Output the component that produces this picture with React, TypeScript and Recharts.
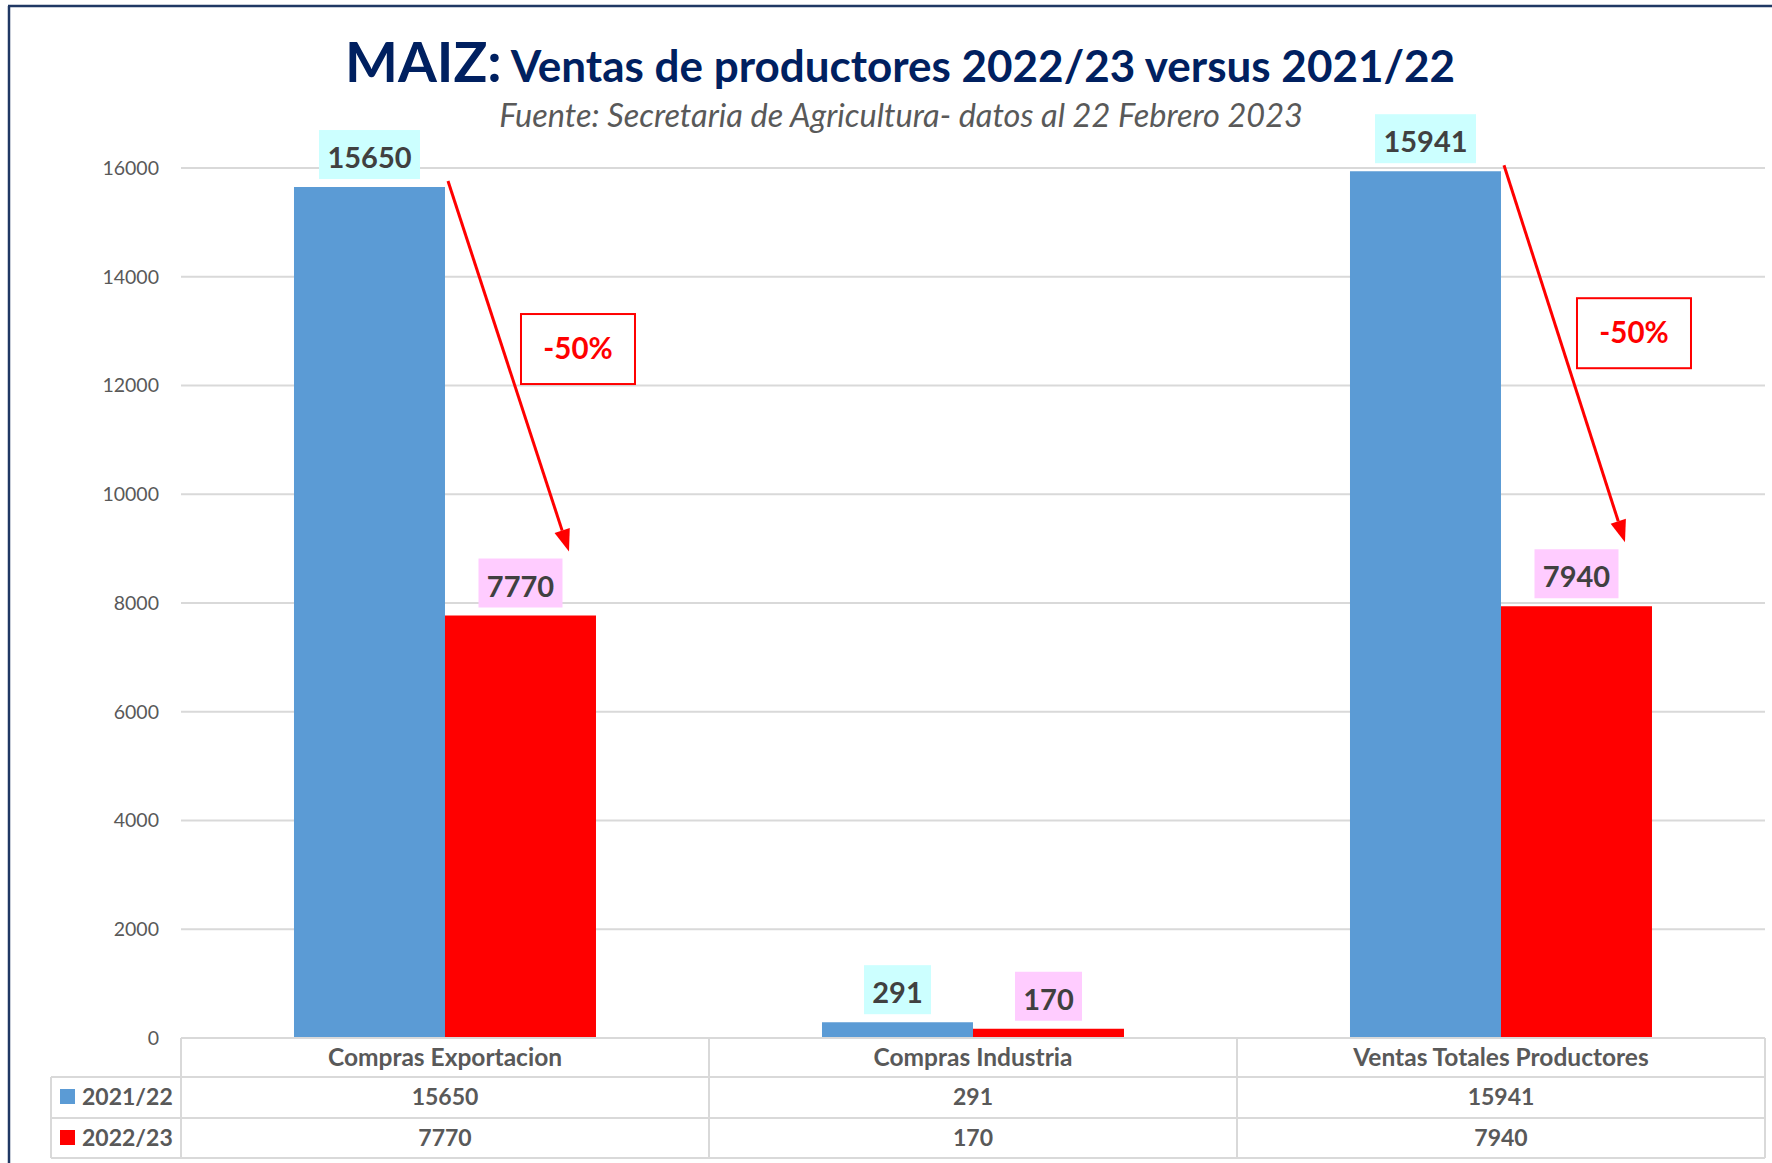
import React from 'react';
import { BarChart, Bar, XAxis, YAxis, CartesianGrid, LabelList } from 'recharts';

const categories = ['Compras Exportacion', 'Compras Industria', 'Ventas Totales Productores'];
const seriesNames = ['2021/22', '2022/23'];
const values2122 = [15650, 291, 15941];
const values2223 = [7770, 170, 7940];
const changeLabels = ['-50%', '', '-50%'];
const yTicks = [0, 2000, 4000, 6000, 8000, 10000, 12000, 14000, 16000];

const COLORS = { a: '#5B9BD5', b: '#FF0000' };
const LABEL_BG = { a: '#CCFFFF', b: '#FFCCFF' };
const FONT = "Lato, 'Noto Sans', sans-serif";
const GRID = '#D9D9D9';
const TXT = '#595959';

const data = categories.map((c, i) => ({ name: c, a: values2122[i], b: values2223[i] }));
const seriesValues = [values2122, values2223];
const seriesKeys: ('a' | 'b')[] = ['a', 'b'];

const TableTick = (props: any) => {
  const { x, y, payload } = props;
  const idx = payload.index;
  const half = payload.offset && payload.offset > 10 ? payload.offset : 264;
  const left = x - half;
  const right = x + half;
  const y1 = y + 39;
  const y2 = y + 80;
  const y3 = y + 120;
  const legendLeft = left - 130;
  const lineProps = { stroke: GRID, strokeWidth: 2 };
  const textProps = { fontFamily: FONT, fontWeight: 700, fontSize: 23, fill: TXT, textAnchor: 'middle' as const };
  return (
    <g>
      <line x1={right} y1={y} x2={right} y2={y3} {...lineProps} />
      {idx === 0 && <line x1={left} y1={y} x2={left} y2={y3} {...lineProps} />}
      <line x1={left} y1={y1} x2={right} y2={y1} {...lineProps} />
      <line x1={left} y1={y2} x2={right} y2={y2} {...lineProps} />
      <line x1={left} y1={y3} x2={right} y2={y3} {...lineProps} />
      <text x={x} y={y + 28} {...textProps} fontSize={24.5}>{payload.value}</text>
      <text x={x} y={y + 67} {...textProps}>{seriesValues[0][idx]}</text>
      <text x={x} y={y + 108} {...textProps}>{seriesValues[1][idx]}</text>
      {idx === 0 && (
        <g>
          <line x1={legendLeft} y1={y1} x2={left} y2={y1} {...lineProps} />
          <line x1={legendLeft} y1={y2} x2={left} y2={y2} {...lineProps} />
          <line x1={legendLeft} y1={y3} x2={left} y2={y3} {...lineProps} />
          <line x1={legendLeft} y1={y1} x2={legendLeft} y2={y3} {...lineProps} />
          {seriesNames.map((s, i) => {
            const cy = i === 0 ? y + 59 : y + 100;
            return (
              <g key={s}>
                <rect x={legendLeft + 9} y={cy - 8} width={15} height={15} fill={COLORS[seriesKeys[i]]} />
                <text x={legendLeft + 31} y={cy + 8} fontFamily={FONT} fontWeight={700} fontSize={23} fill={TXT}>{s}</text>
              </g>
            );
          })}
        </g>
      )}
    </g>
  );
};

const makeValueLabel = (key: 'a' | 'b') => (props: any) => {
  const { x, y, width, value } = props;
  const str = String(value);
  const w = 17 * str.length + 16;
  const h = 49;
  const cx = x + width / 2;
  const bottom = y - 8;
  return (
    <g>
      <rect x={cx - w / 2} y={bottom - h} width={w} height={h} fill={LABEL_BG[key]} />
      <text x={cx} y={bottom - 11} textAnchor="middle" fontFamily={FONT} fontWeight={700} fontSize={29} fill="#404040">{str}</text>
    </g>
  );
};

const ArrowLabel = (props: any) => {
  const { x, y, height, index } = props;
  const txt = changeLabels[index];
  if (!txt) return null;
  const base = y + height;
  const prev = values2122[index];
  const cur = values2223[index];
  const blueTop = base - (height * prev) / cur;
  const sx = x + 3;
  const sy = blueTop - 6;
  const tx = x + 124;
  const ty = y - 64;
  const ang = Math.atan2(ty - sy, tx - sx);
  const hl = 22;
  const hw = 8;
  const bx = tx - hl * Math.cos(ang);
  const by = ty - hl * Math.sin(ang);
  const px = -Math.sin(ang) * hw;
  const py = Math.cos(ang) * hw;
  const boxCx = x + 133;
  const boxCy = blueTop + 162;
  return (
    <g>
      <line x1={sx} y1={sy} x2={bx} y2={by} stroke="#FF0000" strokeWidth={3} />
      <polygon points={`${tx},${ty} ${bx + px},${by + py} ${bx - px},${by - py}`} fill="#FF0000" />
      <rect x={boxCx - 57} y={boxCy - 35} width={114} height={70} fill="#FFFFFF" stroke="#FF0000" strokeWidth={2} />
      <text x={boxCx} y={boxCy + 10} textAnchor="middle" fontFamily={FONT} fontWeight={700} fontSize={29.5} fill="#FF0000">{txt}</text>
    </g>
  );
};

export default function App() {
  return (
    <div style={{ position: 'absolute', left: 0, top: 0, width: 1772, height: 1163, background: '#FFFFFF', overflow: 'hidden' }}>
      <BarChart
        width={1772}
        height={1163}
        data={data}
        margin={{ top: 168, right: 7, bottom: 5, left: 101 }}
        barCategoryGap="21.4%"
        barGap={0}
      >
        <CartesianGrid vertical={false} stroke={GRID} strokeWidth={2} />
        <XAxis
          dataKey="name"
          height={120}
          tickSize={0}
          tickMargin={0}
          tick={<TableTick />}
          axisLine={{ stroke: GRID, strokeWidth: 2 }}
          tickLine={false}
          interval={0}
        />
        <YAxis
          width={80}
          domain={[0, 16000]}
          ticks={yTicks}
          tickSize={0}
          tickMargin={22}
          axisLine={false}
          tickLine={false}
          tick={{ fontFamily: FONT, fontSize: 19.5, fill: TXT }}
          allowDataOverflow
        />
        <Bar dataKey="a" name={seriesNames[0]} fill={COLORS.a} isAnimationActive={false}>
          <LabelList dataKey="a" content={makeValueLabel('a')} />
        </Bar>
        <Bar dataKey="b" name={seriesNames[1]} fill={COLORS.b} isAnimationActive={false}>
          <LabelList dataKey="b" content={makeValueLabel('b')} />
          <LabelList dataKey="b" content={<ArrowLabel />} />
        </Bar>
      </BarChart>
      <svg width={1772} height={1163} style={{ position: 'absolute', left: 0, top: 0, pointerEvents: 'none' }}>
        <line x1={9} y1={6} x2={9} y2={1163} stroke="#203864" strokeWidth={2.5} />
        <line x1={8} y1={6} x2={1772} y2={6} stroke="#203864" strokeWidth={2.5} />
        <text x={900} y={82} textAnchor="middle" fontFamily={FONT} fontWeight={700} fill="#002060">
          <tspan fontSize={56}>MAIZ:</tspan>
          <tspan fontSize={44}> Ventas de productores 2022/23 versus 2021/22</tspan>
        </text>
        <text x={901} y={127} textAnchor="middle" fontFamily={FONT} fontStyle="italic" fontSize={32.5} fill={TXT}>
          Fuente: Secretaria de Agricultura- datos al 22 Febrero 2023
        </text>
      </svg>
    </div>
  );
}
